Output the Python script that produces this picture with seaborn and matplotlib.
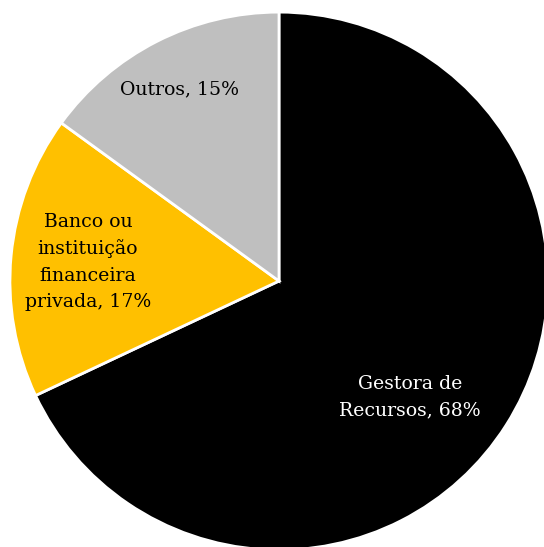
import matplotlib
matplotlib.use("Agg")
import matplotlib.pyplot as plt
import seaborn as sns

sns.set_theme(style="white")
plt.rcParams['font.family'] = ['DejaVu Serif']

categories = ["Gestora de\nRecursos", "Banco ou\ninstituição\nfinanceira\nprivada", "Outros"]
values = [68, 17, 15]
colors = ["#000000", "#FFC000", "#BFBFBF"]
text_colors = ["white", "black", "black"]
label_pos = [(0.487, -0.431), (-0.710, 0.071), (-0.368, 0.714)]

fig = plt.figure(figsize=(5.44, 5.47), dpi=100)
ax = fig.add_axes([0, 0, 1, 1])
wedges, _ = ax.pie(values, colors=colors, startangle=90, counterclock=False,
                   wedgeprops=dict(edgecolor="white", linewidth=2))
for cat, v, tc, (x, y) in zip(categories, values, text_colors, label_pos):
    ax.text(x, y, f"{cat}, {v}%", ha="center", va="center", color=tc,
            fontsize=13.6, linespacing=1.6)
ax.set_xlim(-1.037, 0.985)
ax.set_ylim(-0.989, 1.045)
ax.set_aspect("auto")
ax.axis("off")
fig.savefig("out.png", dpi=100)
